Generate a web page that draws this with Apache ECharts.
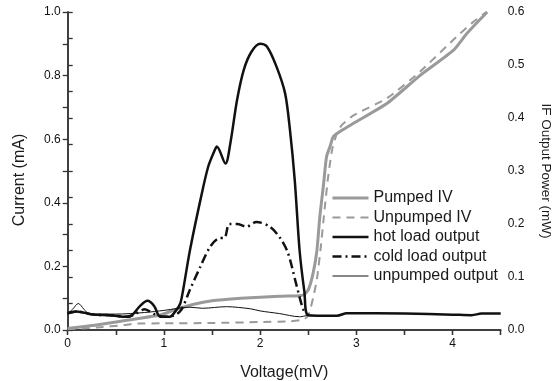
<!DOCTYPE html>
<html><head><meta charset="utf-8">
<script src="https://cdn.jsdelivr.net/npm/echarts@6/dist/echarts.min.js"></script>
<style>html,body{margin:0;padding:0;background:#fff}#c{width:559px;height:381px}</style>
</head><body><div id="c"></div>
<script>
// Voltage (mV) / Current (mA) pairs for the IV curves
var pumpedV = [0,0.3,0.6,0.96,1.1,1.3,1.5,1.8,2.0,2.2,2.4,2.45,2.5,2.55,2.59,2.62,2.66,2.69,2.73,2.76,2.85,2.97,3.32,3.66,4.01,4.15,4.36];
var pumpedI = [0.005,0.016,0.03,0.047,0.062,0.08,0.092,0.1,0.103,0.106,0.108,0.11,0.126,0.178,0.25,0.356,0.461,0.545,0.58,0.608,0.628,0.65,0.713,0.80,0.88,0.933,1.0];
var unpumpedV = [0,0.3,0.6,0.7,1.0,1.5,2.0,2.3,2.45,2.5,2.55,2.59,2.63,2.67,2.71,2.75,2.8,2.85,2.97,3.32,3.66,4.04,4.2,4.35];
var unpumpedI = [0.002,0.008,0.016,0.02,0.021,0.022,0.025,0.027,0.033,0.045,0.10,0.16,0.26,0.38,0.49,0.57,0.62,0.645,0.675,0.729,0.812,0.922,0.965,1.0];
// Voltage (mV) / IF output power (mW) pairs
var hotV = [0,0.09,0.27,0.44,0.61,0.67,0.75,0.83,0.9,0.96,1.06,1.13,1.17,1.2,1.27,1.38,1.46,1.53,1.55,1.64,1.69,1.76,1.83,1.91,2.0,2.07,2.17,2.26,2.31,2.36,2.41,2.46,2.5,2.8,2.9,3.5,4.0,4.2,4.3,4.5];
var hotP = [0.0315,0.035,0.029,0.028,0.025,0.028,0.045,0.055,0.045,0.025,0.025,0.038,0.050,0.076,0.15,0.246,0.308,0.34,0.346,0.314,0.352,0.434,0.491,0.525,0.54,0.535,0.497,0.446,0.377,0.282,0.15,0.072,0.028,0.027,0.0315,0.031,0.029,0.028,0.031,0.031];
var coldV = [0,0.09,0.27,0.44,0.61,0.7,0.8,0.9,1.0,1.1,1.18,1.27,1.38,1.48,1.57,1.63,1.68,1.76,1.86,1.96,2.1,2.21,2.29,2.37,2.45,2.5];
var coldP = [0.0315,0.035,0.029,0.028,0.025,0.03,0.039,0.03,0.025,0.027,0.038,0.076,0.12,0.157,0.173,0.174,0.2,0.2,0.195,0.204,0.195,0.173,0.145,0.09,0.038,0.028];
var unpOutV = [0,0.05,0.11,0.17,0.22,0.5,0.8,1.0,1.27,1.4,1.65,1.9,2.0,2.2,2.41,2.5];
var unpOutP = [0.031,0.039,0.05,0.039,0.031,0.03,0.033,0.037,0.043,0.041,0.044,0.040,0.036,0.031,0.025,0.028];
var names = ['Pumped IV','Unpumped IV','hot load output','cold load output','unpumped output'];

function pairs(xs, ys){ return xs.map(function(x,i){ return [x, ys[i]]; }); }
var FONT = 'Arial, "Liberation Sans", sans-serif';
var axisCol = '#333';
var GRAY = '#9a9a9a', BLACK = '#111';
var styles = [
  {color:GRAY, width:3, type:'solid'},
  {color:GRAY, width:2, type:[8,6]},
  {color:BLACK, width:2.5, type:'solid'},
  {color:BLACK, width:2.5, type:[9,4,2,4]},
  {color:BLACK, width:1, type:'solid'}
];
var chart = echarts.init(document.getElementById('c'), null, {renderer:'canvas'});
chart.setOption({
  backgroundColor:'#ffffff',
  animation:false,
  grid:{left:67.7, right:58.3, top:12, bottom:51, containLabel:false, outerBoundsMode:'none'},
  legend:{
    orient:'vertical', left:331, top:190, padding:0, itemWidth:36, itemHeight:14, itemGap:3.5,
    itemStyle:{color:'rgba(0,0,0,0)', borderWidth:0, borderColor:'rgba(0,0,0,0)'},
    textStyle:{fontFamily:FONT, fontSize:16, color:'#1a1a1a', lineHeight:16},
    data:names.map(function(n,i){ return {name:n,
      itemStyle:{color:'rgba(0,0,0,0)', borderWidth:0, borderColor:'rgba(0,0,0,0)'},
      lineStyle:{color:styles[i].color, width:styles[i].width, type:styles[i].type}}; })
  },
  xAxis:[{
    type:'value', min:0, max:4.5, interval:0.5,
    name:'Voltage(mV)', nameLocation:'middle', nameGap:35,
    nameTextStyle:{fontFamily:FONT, fontSize:16, color:'#1a1a1a'},
    axisLine:{lineStyle:{color:axisCol, width:1.5}},
    axisTick:{length:5, lineStyle:{color:axisCol, width:1.3}},
    axisLabel:{fontFamily:FONT, fontSize:12, color:'#111', margin:8,
      formatter:function(v){ return Math.abs(v-Math.round(v))<1e-6 ? String(Math.round(v)) : ''; }},
    splitLine:{show:false}
  },{
    type:'value', min:0, max:4.5, interval:0.5, position:'top',
    axisLine:{lineStyle:{color:axisCol, width:1.5}},
    axisTick:{inside:true, length:5, lineStyle:{color:axisCol, width:1.3}},
    axisLabel:{show:false}, splitLine:{show:false}
  }],
  yAxis:[{
    type:'value', min:0, max:1, interval:0.1,
    name:'Current (mA)', nameLocation:'middle', nameGap:40, nameRotate:90,
    nameTextStyle:{fontFamily:FONT, fontSize:16, color:'#1a1a1a', padding:[0,0,0,-18]},
    axisLine:{show:true, lineStyle:{color:axisCol, width:1.5}},
    axisTick:{show:true, length:5, lineStyle:{color:axisCol, width:1.3}},
    axisLabel:{fontFamily:FONT, fontSize:12, color:'#111', margin:7,
      formatter:function(v){ var k=Math.round(v*10); return k%2===0 ? (k/10).toFixed(1) : ''; }},
    splitLine:{show:false}
  },{
    type:'value', min:0, max:0.6, interval:0.05, position:'right',
    name:'IF Output Power (mW)', nameLocation:'middle', nameGap:38, nameRotate:-90,
    nameTextStyle:{fontFamily:FONT, fontSize:13.5, color:'#1a1a1a'},
    axisLine:{show:true, lineStyle:{color:axisCol, width:1.5}},
    axisTick:{show:true, length:5, lineStyle:{color:axisCol, width:1.3}},
    axisLabel:{fontFamily:FONT, fontSize:12, color:'#111', margin:7,
      formatter:function(v){ var k=Math.round(v*20); return k%2===0 ? (k/20).toFixed(1) : ''; }},
    splitLine:{show:false}
  }],
  series:[
    {name:names[0], type:'line', xAxisIndex:0, yAxisIndex:0, data:pairs(pumpedV,pumpedI), showSymbol:false, symbol:'none', smooth:0.2,
      lineStyle:styles[0], itemStyle:{color:GRAY}, z:2},
    {name:names[1], type:'line', xAxisIndex:0, yAxisIndex:0, data:pairs(unpumpedV,unpumpedI), showSymbol:false, symbol:'none', smooth:0.2,
      lineStyle:styles[1], itemStyle:{color:GRAY}, z:2},
    {name:names[2], type:'line', xAxisIndex:0, yAxisIndex:1, data:pairs(hotV,hotP), showSymbol:false, symbol:'none', smooth:0.3,
      lineStyle:styles[2], itemStyle:{color:BLACK}, z:3},
    {name:names[3], type:'line', xAxisIndex:0, yAxisIndex:1, data:pairs(coldV,coldP), showSymbol:false, symbol:'none', smooth:0.3,
      lineStyle:styles[3], itemStyle:{color:BLACK}, z:3},
    {name:names[4], type:'line', xAxisIndex:0, yAxisIndex:1, data:pairs(unpOutV,unpOutP), showSymbol:false, symbol:'none', smooth:0.3,
      lineStyle:styles[4], itemStyle:{color:BLACK}, z:3}
  ]
});
</script></body></html>
